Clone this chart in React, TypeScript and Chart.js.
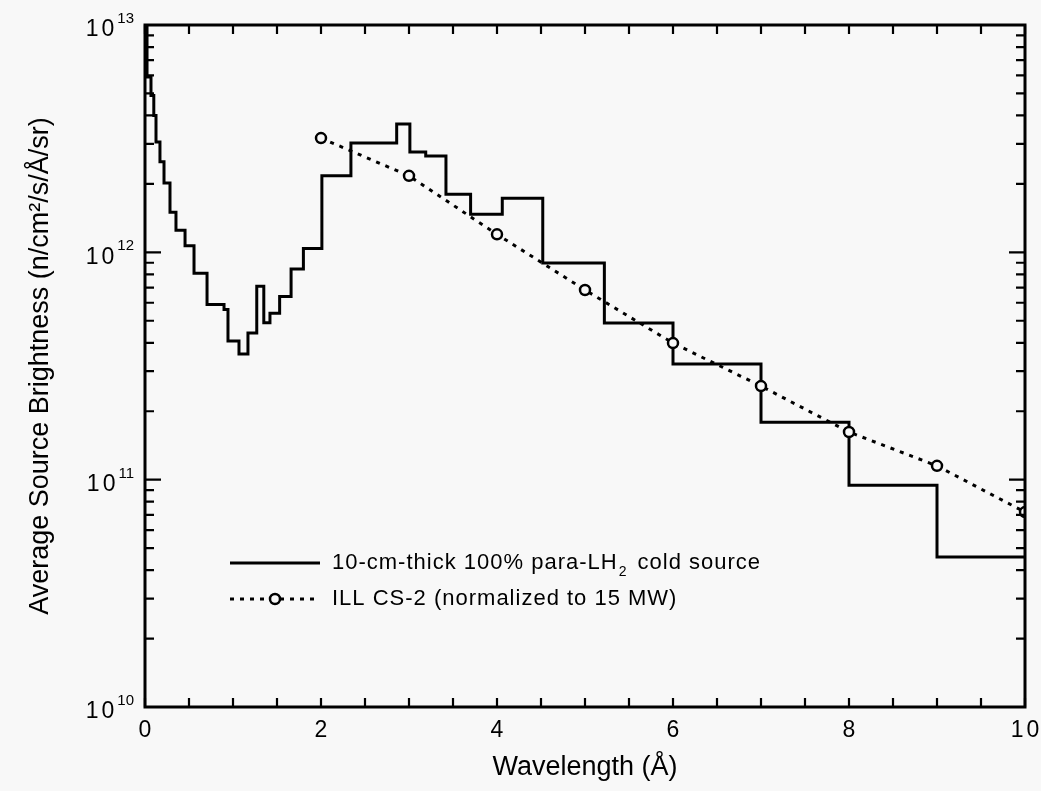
import { useEffect, useRef } from "react";
import { Chart, registerables } from "chart.js";

Chart.register(...registerables);

// ---- Data ----
// Edges of the histogram bins of the para-LH2 source (Å); the last value closes the final bin.
const binEdges = [
  0, 0.023, 0.068, 0.1, 0.125, 0.17, 0.216, 0.284, 0.352, 0.455, 0.557, 0.705,
  0.898, 0.943, 1.068, 1.17, 1.27, 1.35, 1.42, 1.53, 1.66, 1.8, 2.01, 2.34,
  2.86, 3.01, 3.19, 3.42, 3.7, 4.06, 4.52, 5.22, 6.0, 7.0, 8.0, 9.0, 10.0,
];
// Average brightness in each bin (n/cm²/s/Å/sr)
const lh2Brightness = [
  1e13, 5.9e12, 4.9e12, 4.0e12, 3.06e12, 2.5e12, 2.02e12, 1.5e12, 1.25e12,
  1.07e12, 8.1e11, 5.9e11, 5.6e11, 4.07e11, 3.57e11, 4.42e11, 7.1e11, 4.9e11,
  5.4e11, 6.4e11, 8.45e11, 1.04e12, 2.17e12, 3.03e12, 3.67e12, 2.76e12,
  2.65e12, 1.8e12, 1.47e12, 1.73e12, 8.98e11, 4.89e11, 3.23e11, 1.79e11,
  9.46e10, 4.57e10,
];
// ILL CS-2 reference points
const illWavelength = [2, 3, 4, 5, 6, 7, 8, 9, 10];
const illBrightness = [
  3.18e12, 2.17e12, 1.2e12, 6.83e11, 3.99e11, 2.58e11, 1.62e11, 1.15e11, 7.2e10,
];

const seriesLabels = [
  "10-cm-thick 100% para-LH₂ cold source",
  "ILL CS-2 (normalized to 15 MW)",
];
const xTitle = "Wavelength (Å)";
const yTitle = "Average Source Brightness (n/cm²/s/Å/sr)";

// Axis ticks
const xMin = 0;
const xMax = 10;
const xLabelStep = 2;
const xMinorStep = 0.5;
const yDecades = [1e10, 1e11, 1e12, 1e13];
const yMinorMultipliers = [2, 3, 4, 5, 6, 7, 8, 9];

// ---- Styles ----
const INK = "#000000";
const BG = "#f8f8f8";
const FONT = '"Liberation Sans", Arial, Helvetica, sans-serif';

const decorPlugin = {
  id: "decor",
  afterDatasetsDraw(chart: any) {
    const { ctx, chartArea: a, scales } = chart;
    const xs = scales.x;
    const ys = scales.y;
    ctx.save();
    ctx.strokeStyle = INK;
    ctx.fillStyle = INK;

    // frame
    ctx.lineWidth = 3;
    ctx.strokeRect(a.left, a.top, a.right - a.left, a.bottom - a.top);

    // inward ticks
    ctx.lineWidth = 2.2;
    ctx.beginPath();
    const nX = Math.round((xMax - xMin) / xMinorStep);
    for (let i = 0; i <= nX; i++) {
      const px = xs.getPixelForValue(xMin + i * xMinorStep);
      ctx.moveTo(px, a.bottom);
      ctx.lineTo(px, a.bottom - 9);
      ctx.moveTo(px, a.top);
      ctx.lineTo(px, a.top + 9);
    }
    yDecades.forEach((d, di) => {
      const mults = di < yDecades.length - 1 ? [1, ...yMinorMultipliers] : [1];
      mults.forEach((m) => {
        const py = ys.getPixelForValue(m * d);
        const len = m === 1 ? 16 : 9;
        ctx.moveTo(a.left, py);
        ctx.lineTo(a.left + len, py);
        ctx.moveTo(a.right, py);
        ctx.lineTo(a.right - len, py);
      });
    });
    ctx.stroke();

    // x tick labels
    ctx.font = `23px ${FONT}`;
    (ctx as any).letterSpacing = "3px";
    ctx.textAlign = "center";
    ctx.textBaseline = "middle";
    const nL = Math.round((xMax - xMin) / xLabelStep);
    for (let i = 0; i <= nL; i++) {
      const v = xMin + i * xLabelStep;
      ctx.fillText(String(v), xs.getPixelForValue(v) + 1.5, a.bottom + 24);
    }

    // y tick labels with superscript exponents
    ctx.textAlign = "left";
    yDecades.forEach((d) => {
      const py = ys.getPixelForValue(d);
      const exp = String(Math.round(Math.log10(d)));
      ctx.font = `23px ${FONT}`;
      (ctx as any).letterSpacing = "3px";
      const wBase = ctx.measureText("10").width;
      ctx.font = `15px ${FONT}`;
      (ctx as any).letterSpacing = "0px";
      const wExp = ctx.measureText(exp).width;
      const right = a.left - 11;
      ctx.font = `23px ${FONT}`;
      (ctx as any).letterSpacing = "3px";
      ctx.fillText("10", right - wExp - wBase, py + 5);
      ctx.font = `15px ${FONT}`;
      (ctx as any).letterSpacing = "0px";
      ctx.fillText(exp, right - wExp, py - 6);
    });

    // legend inside plot
    const lx0 = a.left + 85;
    const lx1 = a.left + 175;
    const tx = a.left + 187;
    const row1 = a.top + 538;
    const row2 = a.top + 574;
    const ds = chart.data.datasets;

    ctx.setLineDash([]);
    ctx.lineWidth = ds[0].borderWidth;
    ctx.beginPath();
    ctx.moveTo(lx0, row1);
    ctx.lineTo(lx1, row1);
    ctx.stroke();

    ctx.setLineDash(ds[1].borderDash);
    ctx.lineWidth = ds[1].borderWidth;
    ctx.beginPath();
    ctx.moveTo(lx0, row2);
    ctx.lineTo(lx1, row2);
    ctx.stroke();
    ctx.setLineDash([]);
    ctx.lineWidth = ds[1].pointBorderWidth;
    ctx.fillStyle = BG;
    ctx.beginPath();
    ctx.arc((lx0 + lx1) / 2, row2, ds[1].pointRadius, 0, Math.PI * 2);
    ctx.fill();
    ctx.stroke();
    ctx.fillStyle = INK;

    const drawLabel = (text: string, x: number, y: number) => {
      const parts = text.split("₂");
      let cx = x;
      parts.forEach((p, i) => {
        ctx.font = `22px ${FONT}`;
        (ctx as any).letterSpacing = "1px";
        ctx.fillText(p, cx, y);
        cx += ctx.measureText(p).width;
        if (i < parts.length - 1) {
          ctx.font = `14px ${FONT}`;
          ctx.fillText("2", cx + 1, y + 9);
          cx += ctx.measureText("2").width + 4;
        }
      });
    };
    ctx.textAlign = "left";
    ctx.textBaseline = "middle";
    drawLabel(ds[0].label, tx, row1);
    drawLabel(ds[1].label, tx, row2);

    ctx.restore();
  },
};

export default function App() {
  const ref = useRef<HTMLCanvasElement | null>(null);

  useEffect(() => {
    document.body.style.margin = "0";
    document.body.style.background = BG;
    const canvas = ref.current;
    if (!canvas) return;

    const stepData = binEdges.map((x, i) => ({
      x,
      y: lh2Brightness[Math.min(i, lh2Brightness.length - 1)],
    }));
    const illData = illWavelength.map((x, i) => ({ x, y: illBrightness[i] }));

    const chart = new Chart(canvas, {
      type: "scatter",
      data: {
        datasets: [
          {
            label: seriesLabels[0],
            data: stepData,
            showLine: true,
            stepped: "before",
            borderColor: INK,
            borderWidth: 3,
            pointRadius: 0,
            fill: false,
            order: 1,
          } as any,
          {
            label: seriesLabels[1],
            data: illData,
            showLine: true,
            borderColor: INK,
            borderWidth: 3,
            borderDash: [4, 6],
            pointRadius: 5,
            pointBorderWidth: 2.5,
            pointBackgroundColor: BG,
            pointBorderColor: INK,
            fill: false,
            order: 0,
          } as any,
        ],
      },
      options: {
        animation: false,
        responsive: false,
        maintainAspectRatio: false,
        layout: { padding: { top: 25, right: 16, left: 0, bottom: 0 } },
        plugins: {
          legend: { display: false },
          tooltip: { enabled: false },
        },
        scales: {
          x: {
            type: "linear",
            min: xMin,
            max: xMax,
            ticks: { display: false, stepSize: xLabelStep },
            grid: { display: false, drawTicks: false },
            border: { display: false },
            title: {
              display: true,
              text: xTitle,
              color: INK,
              font: { family: FONT, size: 27 },
              padding: { top: 0, bottom: 7 },
            },
            afterFit(s: any) {
              s.height = 84;
              s.paddingLeft = 0;
              s.paddingRight = 0;
            },
          },
          y: {
            type: "logarithmic",
            min: yDecades[0],
            max: yDecades[yDecades.length - 1],
            ticks: { display: false },
            grid: { display: false, drawTicks: false },
            border: { display: false },
            title: {
              display: true,
              text: yTitle,
              color: INK,
              font: { family: FONT, size: 27 },
              padding: { top: 24, bottom: 0 },
            },
            afterFit(s: any) {
              s.width = 145;
              s.paddingTop = 0;
              s.paddingBottom = 0;
            },
          },
        },
      } as any,
      plugins: [decorPlugin],
    });

    return () => chart.destroy();
  }, []);

  return (
    <div style={{ width: 1041, height: 791, background: BG }}>
      <canvas ref={ref} width={1041} height={791} style={{ display: "block" }} />
    </div>
  );
}
